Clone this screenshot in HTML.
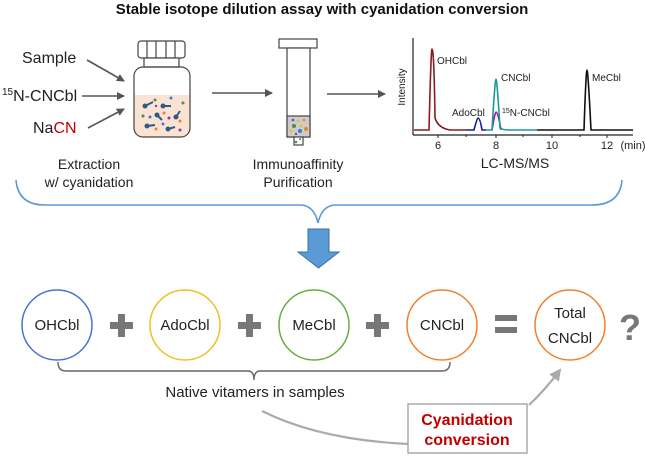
<!DOCTYPE html>
<html><head><meta charset="utf-8"><style>
html,body{margin:0;padding:0;background:#fff;}
svg{display:block;font-family:"Liberation Sans",sans-serif;}
</style></head><body>
<svg width="645" height="456" viewBox="0 0 645 456" xmlns="http://www.w3.org/2000/svg">
<defs>
<marker id="ag" markerWidth="8" markerHeight="8" refX="7" refY="4" orient="auto" markerUnits="userSpaceOnUse"><path d="M0,0 L8,4 L0,8 Z" fill="#555"/></marker>
<marker id="agl" markerWidth="12" markerHeight="12" refX="10" refY="6" orient="auto" markerUnits="userSpaceOnUse"><path d="M0,0 L12,6 L0,12 Z" fill="#aaa"/></marker>
</defs>
<text x="322" y="14" text-anchor="middle" font-size="15" font-weight="bold" fill="#111">Stable isotope dilution assay with cyanidation conversion</text>

<text x="22" y="63" font-size="16" fill="#222">Sample</text>
<text x="2" y="101" font-size="16" fill="#222"><tspan font-size="10" dy="-6">15</tspan><tspan dy="6">N-CNCbl</tspan></text>
<text x="33" y="133" font-size="16" fill="#222">Na<tspan fill="#c00000">CN</tspan></text>
<g stroke="#555" stroke-width="1.6" fill="none">
<line x1="87" y1="60" x2="124" y2="81" marker-end="url(#ag)"/>
<line x1="82" y1="96" x2="124" y2="96" marker-end="url(#ag)"/>
<line x1="88" y1="128" x2="124" y2="109" marker-end="url(#ag)"/>
<line x1="212" y1="93" x2="272" y2="93" marker-end="url(#ag)"/>
<line x1="327" y1="94" x2="385" y2="94" marker-end="url(#ag)"/>
</g>
<!-- bottle -->
<g stroke="#444" stroke-width="1.2">
<rect x="138" y="41" width="47" height="17" rx="3" fill="#fff"/>
<line x1="147" y1="41" x2="147" y2="58"/><line x1="156" y1="41" x2="156" y2="58"/><line x1="166" y1="41" x2="166" y2="58"/><line x1="175" y1="41" x2="175" y2="58"/>
<rect x="144" y="58" width="35" height="9" fill="#fff"/>
<path d="M134,95 L190,95 L190,128 Q190,137 181,137 L143,137 Q134,137 134,128 Z" fill="#fbe3d3" stroke="none"/>
<rect x="134" y="67" width="56" height="70" rx="9" fill="none"/>
</g>
<g fill="#2e5a88">
<circle cx="145" cy="106" r="2.5"/><circle cx="163" cy="106" r="2.5"/><circle cx="157" cy="115" r="2.5"/><circle cx="176" cy="117" r="2.5"/><circle cx="147" cy="126" r="2.5"/><circle cx="168" cy="129" r="2.5"/>
<path d="M145,106 l8,-4 M163,106 l8,0 M157,115 l5,5 M176,117 l4,-6 M147,126 l8,-1 M168,129 l7,-2" stroke="#2e5a88" stroke-width="2"/>
</g>
<g>
<circle cx="155" cy="100" r="1.5" fill="#4a8f3a"/><circle cx="171" cy="98" r="1.5" fill="#3a7ad0"/><circle cx="183" cy="103" r="1.5" fill="#4a8f3a"/><circle cx="143" cy="116" r="1.5" fill="#4a8f3a"/><circle cx="150" cy="117" r="1.5" fill="#3a7ad0"/><circle cx="164" cy="113" r="1.5" fill="#f08020"/><circle cx="169" cy="118" r="1.5" fill="#8040c0"/><circle cx="180" cy="121" r="1.5" fill="#f08020"/><circle cx="163" cy="124" r="1.5" fill="#3a7ad0"/><circle cx="156" cy="129" r="1.5" fill="#f08020"/><circle cx="180" cy="130" r="1.5" fill="#8040c0"/><circle cx="156" cy="106" r="1.2" fill="#8040c0"/>
</g>
<text x="89" y="169" text-anchor="middle" font-size="14" fill="#222">Extraction</text>
<text x="89" y="187" text-anchor="middle" font-size="14" fill="#222">w/ cyanidation</text>
<!-- column -->
<g stroke="#444" stroke-width="1.2">
<rect x="279" y="39" width="38" height="9" fill="#fff"/>
<rect x="287" y="48" width="23" height="89" fill="#fff"/>
<rect x="287" y="116" width="23" height="21" fill="#ccc"/>
<rect x="294" y="137" width="9" height="8" fill="#fff"/>
</g>
<g>
<circle cx="293" cy="120" r="1.3" fill="#8040c0"/><circle cx="298" cy="121" r="1.3" fill="#f0c000"/><circle cx="304" cy="120" r="1.3" fill="#f08020"/><circle cx="294" cy="126" r="2" fill="#4a8f3a"/><circle cx="301" cy="126" r="1.3" fill="#f0c000"/><circle cx="306" cy="129" r="2" fill="#f08020"/><circle cx="300" cy="131" r="2" fill="#3a7ad0"/><circle cx="291" cy="131" r="1.3" fill="#f0c000"/><circle cx="296" cy="134" r="1.2" fill="#8040c0"/><circle cx="296" cy="142" r="1.3" fill="#4a8f3a"/><circle cx="300" cy="139" r="1" fill="#4a8f3a"/>
</g>
<text x="298" y="169" text-anchor="middle" font-size="14" fill="#222">Immunoaffinity</text>
<text x="298" y="187" text-anchor="middle" font-size="14" fill="#222">Purification</text>
<!-- chromatogram -->
<line x1="413" y1="38" x2="413" y2="135" stroke="#222" stroke-width="1.2"/>
<line x1="413" y1="135" x2="633" y2="135" stroke="#222" stroke-width="1.2"/>
<g stroke="#222" stroke-width="1"><line x1="438" y1="135" x2="438" y2="138"/><line x1="466" y1="135" x2="466" y2="137"/><line x1="496" y1="135" x2="496" y2="138"/><line x1="523" y1="135" x2="523" y2="137"/><line x1="552" y1="135" x2="552" y2="138"/><line x1="580" y1="135" x2="580" y2="137"/><line x1="607" y1="135" x2="607" y2="138"/></g>
<g font-size="11" fill="#222" text-anchor="middle"><text x="438" y="149">6</text><text x="496" y="149">8</text><text x="552" y="149">10</text><text x="607" y="149">12</text><text x="633" y="149">(min)</text></g>
<text transform="translate(405,87) rotate(-90)" text-anchor="middle" font-size="10" fill="#222">Intensity</text>
<g fill="none" stroke-width="1.6">
<path d="M414,130 L429,130 Q431,49 432,49 Q434,49 435,118 Q438,128 450,130 L466,130" stroke="#8b1a1a"/>
<path d="M466,130 L474,130 Q477,118 478,118 Q480,118 482,130 L486,130" stroke="#1a1a9a"/>
<path d="M492,130 Q495,112 496,112 Q498,112 501,130" stroke="#9a1a9a"/>
<path d="M486,130 L492,130 Q495,79 496,79 Q497,79 500,128 Q503,130 510,130 L537,130" stroke="#1a9a9a"/>
<path d="M537,130 L584,130 Q586,70 587,70 Q588,70 591,130 L633,130" stroke="#111"/>
</g>
<g font-size="10" fill="#222"><text x="437" y="64">OHCbl</text><text x="501" y="81">CNCbl</text><text x="452" y="116">AdoCbl</text><text x="502" y="116"><tspan font-size="7" dy="-3">15</tspan><tspan dy="3">N-CNCbl</tspan></text><text x="592" y="81">MeCbl</text></g>
<text x="515" y="168" text-anchor="middle" font-size="14" fill="#222">LC-MS/MS</text>
<!-- blue brace -->
<path d="M16,180 Q18,205 45,205 L300,205 Q314,205 318,223 Q322,205 336,205 L592,205 Q620,205 622,180" fill="none" stroke="#5b9bd5" stroke-width="1.6"/>
<path d="M308,229 L329,229 L329,252 L339,252 L318.5,268 L298,252 L308,252 Z" fill="#5b9bd5" stroke="#3a6fa8" stroke-width="1"/>
<!-- circles -->
<g fill="none" stroke-width="1.5">
<circle cx="57" cy="325" r="35" stroke="#4a72d0"/>
<circle cx="185" cy="325" r="35" stroke="#f0c020"/>
<circle cx="314" cy="325" r="35" stroke="#6aac40"/>
<circle cx="442" cy="325" r="35" stroke="#f08030"/>
<circle cx="570" cy="325" r="35" stroke="#f08030"/>
</g>
<g font-size="15" fill="#222" text-anchor="middle">
<text x="57" y="330">OHCbl</text><text x="185" y="330">AdoCbl</text><text x="314" y="330">MeCbl</text><text x="442" y="330">CNCbl</text>
<text x="570" y="318">Total</text><text x="570" y="343">CNCbl</text>
</g>
<g fill="#777">
<rect x="110" y="322" width="23" height="7"/><rect x="118" y="314" width="7" height="23"/>
<rect x="238" y="322" width="23" height="7"/><rect x="246" y="314" width="7" height="23"/>
<rect x="366" y="322" width="23" height="7"/><rect x="374" y="314" width="7" height="23"/>
<rect x="495" y="315" width="22" height="6"/><rect x="495" y="327" width="22" height="6"/>
</g>
<text x="630" y="340" text-anchor="middle" font-size="36" font-weight="bold" fill="#777">?</text>
<path d="M58,362 Q58,371 66,371 L248,371 Q254,371 254,380 Q254,371 260,371 L442,371 Q450,371 450,362" fill="none" stroke="#666" stroke-width="1.4"/>
<text x="255" y="397" text-anchor="middle" font-size="15" fill="#222">Native vitamers in samples</text>
<path d="M262,411 Q320,440 409,444" fill="none" stroke="#aaa" stroke-width="2.2"/>
<path d="M529,405 Q545,390 560,370" fill="none" stroke="#aaa" stroke-width="2.2" marker-end="url(#agl)"/>
<rect x="408" y="404" width="119" height="49" fill="#fff" stroke="#aaa" stroke-width="1.5"/>
<text x="467" y="425" text-anchor="middle" font-size="16" font-weight="bold" fill="#c00000">Cyanidation</text>
<text x="467" y="445" text-anchor="middle" font-size="16" font-weight="bold" fill="#c00000">conversion</text>
</svg>
</body></html>
